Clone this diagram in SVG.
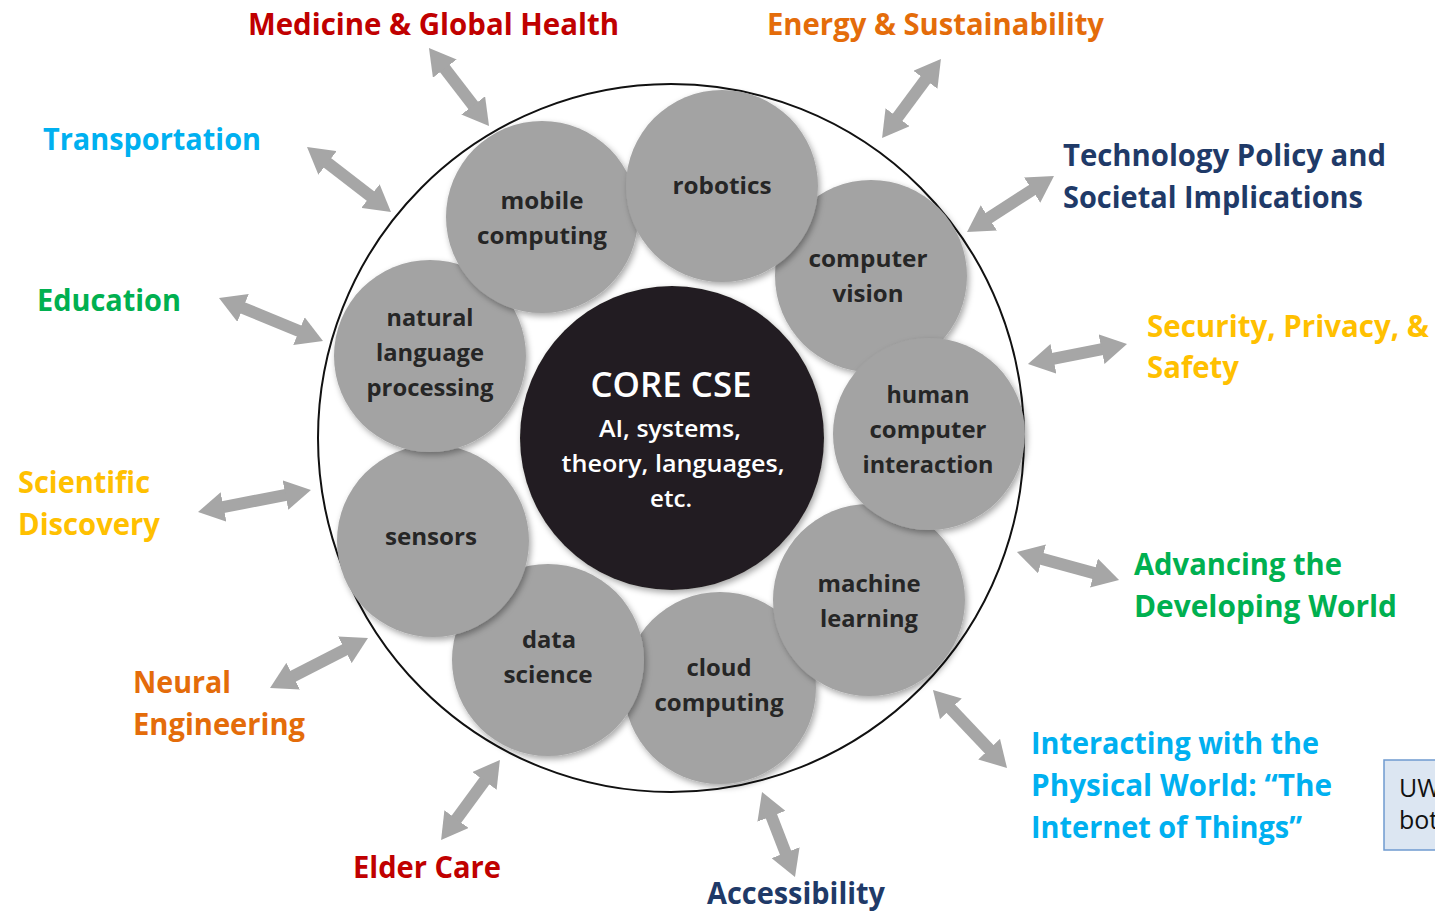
<svg xmlns="http://www.w3.org/2000/svg" width="1435" height="911" viewBox="0 0 1435 911">
<defs>
<style>
.lbl{font-family:"Open Sans","Liberation Sans",sans-serif;font-weight:700;font-size:30px}
.ct{font-family:"Open Sans","Liberation Sans",sans-serif;font-weight:700;font-size:24px;fill:#262626;text-anchor:middle}
.gc{fill:#a3a3a3;filter:url(#sh)}
.core{font-family:"Open Sans","Liberation Sans",sans-serif;font-weight:600;fill:#ffffff;text-anchor:middle}
.arr{stroke:#a6a6a6;stroke-width:12;fill:none;marker-start:url(#ah);marker-end:url(#ah)}
.red{fill:#c00000}.org{fill:#e46c0a}.blu{fill:#00b0f0}.nav{fill:#1f3a68}.grn{fill:#00b050}.yel{fill:#ffc000}
</style>
<filter id="sh" x="-20%" y="-20%" width="140%" height="140%">
<feDropShadow dx="2" dy="3" stdDeviation="3" flood-color="#000" flood-opacity="0.35"/>
</filter>
<marker id="ah" markerUnits="userSpaceOnUse" viewBox="-2 -15 26 30" refX="0" refY="0" markerWidth="26" markerHeight="30" orient="auto-start-reverse">
<path d="M-2,-15 L24,0 L-2,15 z" fill="#a6a6a6"/>
</marker>
</defs>
<rect width="1435" height="911" fill="#ffffff"/>

<g id="outer-ring">
<ellipse cx="671" cy="438" rx="353" ry="354" fill="#ffffff" stroke="#111" stroke-width="2"/>
</g>

<g id="connectors">
<line class="arr" x1="443.6" y1="67.0" x2="474.4" y2="107.0"/>
<line class="arr" x1="926.6" y1="78.2" x2="896.4" y2="118.8"/>
<line class="arr" x1="326.0" y1="161.7" x2="372.0" y2="197.3"/>
<line class="arr" x1="1033.8" y1="189.0" x2="987.2" y2="219.0"/>
<line class="arr" x1="241.2" y1="307.2" x2="300.8" y2="331.8"/>
<line class="arr" x1="1051.5" y1="359.2" x2="1103.5" y2="348.8"/>
<line class="arr" x1="221.6" y1="507.4" x2="287.4" y2="494.6"/>
<line class="arr" x1="1040.1" y1="558.4" x2="1095.9" y2="573.6"/>
<line class="arr" x1="291.4" y1="677.1" x2="346.6" y2="648.9"/>
<line class="arr" x1="949.5" y1="707.4" x2="990.5" y2="750.6"/>
<line class="arr" x1="455.3" y1="820.7" x2="485.7" y2="779.3"/>
<line class="arr" x1="770.7" y1="814.4" x2="786.3" y2="854.6"/>
</g>

<g id="core">
<circle cx="672" cy="438" r="152" fill="#231f20" filter="url(#sh)"/>
<text class="core" x="671" y="397" font-size="35" textLength="161" lengthAdjust="spacingAndGlyphs">CORE CSE</text>
<text class="core" x="670" y="437" font-size="24" font-weight="700" textLength="142" lengthAdjust="spacingAndGlyphs">AI, systems,</text>
<text class="core" x="673" y="472" font-size="24" font-weight="700" textLength="223" lengthAdjust="spacingAndGlyphs">theory, languages,</text>
<text class="core" x="671" y="507" font-size="24" font-weight="700" textLength="42" lengthAdjust="spacingAndGlyphs">etc.</text>
</g>

<g id="cloud-computing">
<circle class="gc" cx="720" cy="688" r="96"/>
<text class="ct" x="719" y="676" textLength="65" lengthAdjust="spacingAndGlyphs">cloud</text>
<text class="ct" x="719" y="711" textLength="129" lengthAdjust="spacingAndGlyphs">computing</text>
</g>
<g id="data-science">
<circle class="gc" cx="548" cy="660" r="96"/>
<text class="ct" x="549" y="648" textLength="54" lengthAdjust="spacingAndGlyphs">data</text>
<text class="ct" x="548" y="683" textLength="89" lengthAdjust="spacingAndGlyphs">science</text>
</g>
<g id="sensors">
<circle class="gc" cx="433" cy="541" r="96"/>
<text class="ct" x="431" y="545" textLength="92" lengthAdjust="spacingAndGlyphs">sensors</text>
</g>
<g id="machine-learning">
<circle class="gc" cx="869" cy="600" r="96"/>
<text class="ct" x="869" y="592" textLength="103" lengthAdjust="spacingAndGlyphs">machine</text>
<text class="ct" x="869" y="627" textLength="98" lengthAdjust="spacingAndGlyphs">learning</text>
</g>
<g id="natural-language-processing">
<circle class="gc" cx="430" cy="356" r="96"/>
<text class="ct" x="430" y="326" textLength="87" lengthAdjust="spacingAndGlyphs">natural</text>
<text class="ct" x="430" y="361" textLength="108" lengthAdjust="spacingAndGlyphs">language</text>
<text class="ct" x="430" y="396" textLength="127" lengthAdjust="spacingAndGlyphs">processing</text>
</g>
<g id="computer-vision">
<circle class="gc" cx="871" cy="276" r="96"/>
<text class="ct" x="868" y="267" textLength="119" lengthAdjust="spacingAndGlyphs">computer</text>
<text class="ct" x="868" y="302" textLength="71" lengthAdjust="spacingAndGlyphs">vision</text>
</g>
<g id="human-computer-interaction">
<circle class="gc" cx="929" cy="434" r="96"/>
<text class="ct" x="928" y="403" textLength="83" lengthAdjust="spacingAndGlyphs">human</text>
<text class="ct" x="928" y="438" textLength="117" lengthAdjust="spacingAndGlyphs">computer</text>
<text class="ct" x="928" y="473" textLength="131" lengthAdjust="spacingAndGlyphs">interaction</text>
</g>
<g id="mobile-computing">
<circle class="gc" cx="542" cy="217" r="96"/>
<text class="ct" x="542" y="209" textLength="83" lengthAdjust="spacingAndGlyphs">mobile</text>
<text class="ct" x="542" y="244" textLength="130" lengthAdjust="spacingAndGlyphs">computing</text>
</g>
<g id="robotics">
<circle class="gc" cx="722" cy="186" r="96"/>
<text class="ct" x="722" y="194" textLength="99" lengthAdjust="spacingAndGlyphs">robotics</text>
</g>

<g id="label-medicine"><text class="lbl red" x="248" y="35" textLength="371" lengthAdjust="spacingAndGlyphs">Medicine &amp; Global Health</text></g>
<g id="label-energy"><text class="lbl org" x="767" y="35" textLength="337" lengthAdjust="spacingAndGlyphs">Energy &amp; Sustainability</text></g>
<g id="label-transportation"><text class="lbl blu" x="43" y="150" textLength="218" lengthAdjust="spacingAndGlyphs">Transportation</text></g>
<g id="label-technology">
<text class="lbl nav" x="1063" y="166" textLength="323" lengthAdjust="spacingAndGlyphs">Technology Policy and</text>
<text class="lbl nav" x="1063" y="208" textLength="300" lengthAdjust="spacingAndGlyphs">Societal Implications</text>
</g>
<g id="label-education"><text class="lbl grn" x="37" y="311" textLength="144" lengthAdjust="spacingAndGlyphs">Education</text></g>
<g id="label-security">
<text class="lbl yel" x="1147" y="337" textLength="282" lengthAdjust="spacingAndGlyphs">Security, Privacy, &amp;</text>
<text class="lbl yel" x="1147" y="378" textLength="92" lengthAdjust="spacingAndGlyphs">Safety</text>
</g>
<g id="label-scientific">
<text class="lbl yel" x="18" y="493" textLength="132" lengthAdjust="spacingAndGlyphs">Scientific</text>
<text class="lbl yel" x="18" y="535" textLength="142" lengthAdjust="spacingAndGlyphs">Discovery</text>
</g>
<g id="label-advancing">
<text class="lbl grn" x="1134" y="575" textLength="208" lengthAdjust="spacingAndGlyphs">Advancing the</text>
<text class="lbl grn" x="1134" y="617" textLength="263" lengthAdjust="spacingAndGlyphs">Developing World</text>
</g>
<g id="label-neural">
<text class="lbl org" x="133" y="693" textLength="98" lengthAdjust="spacingAndGlyphs">Neural</text>
<text class="lbl org" x="133" y="735" textLength="172" lengthAdjust="spacingAndGlyphs">Engineering</text>
</g>
<g id="label-interacting">
<text class="lbl blu" x="1031" y="754" textLength="288" lengthAdjust="spacingAndGlyphs">Interacting with the</text>
<text class="lbl blu" x="1031" y="796" textLength="301" lengthAdjust="spacingAndGlyphs">Physical World: “The</text>
<text class="lbl blu" x="1031" y="838" textLength="271" lengthAdjust="spacingAndGlyphs">Internet of Things”</text>
</g>
<g id="label-elder"><text class="lbl red" x="353" y="878" textLength="148" lengthAdjust="spacingAndGlyphs">Elder Care</text></g>
<g id="label-accessibility"><text class="lbl nav" x="707" y="904" textLength="178" lengthAdjust="spacingAndGlyphs">Accessibility</text></g>

<g id="note-box">
<rect x="1384" y="760" width="80" height="90" fill="#dce6f2" stroke="#6f9ad0" stroke-width="1.5"/>
<text x="1399" y="797" font-family="Open Sans, Liberation Sans, sans-serif" font-size="25" fill="#111">UW</text>
<text x="1399" y="829" font-family="Open Sans, Liberation Sans, sans-serif" font-size="25" fill="#111">bot</text>
</g>
</svg>
